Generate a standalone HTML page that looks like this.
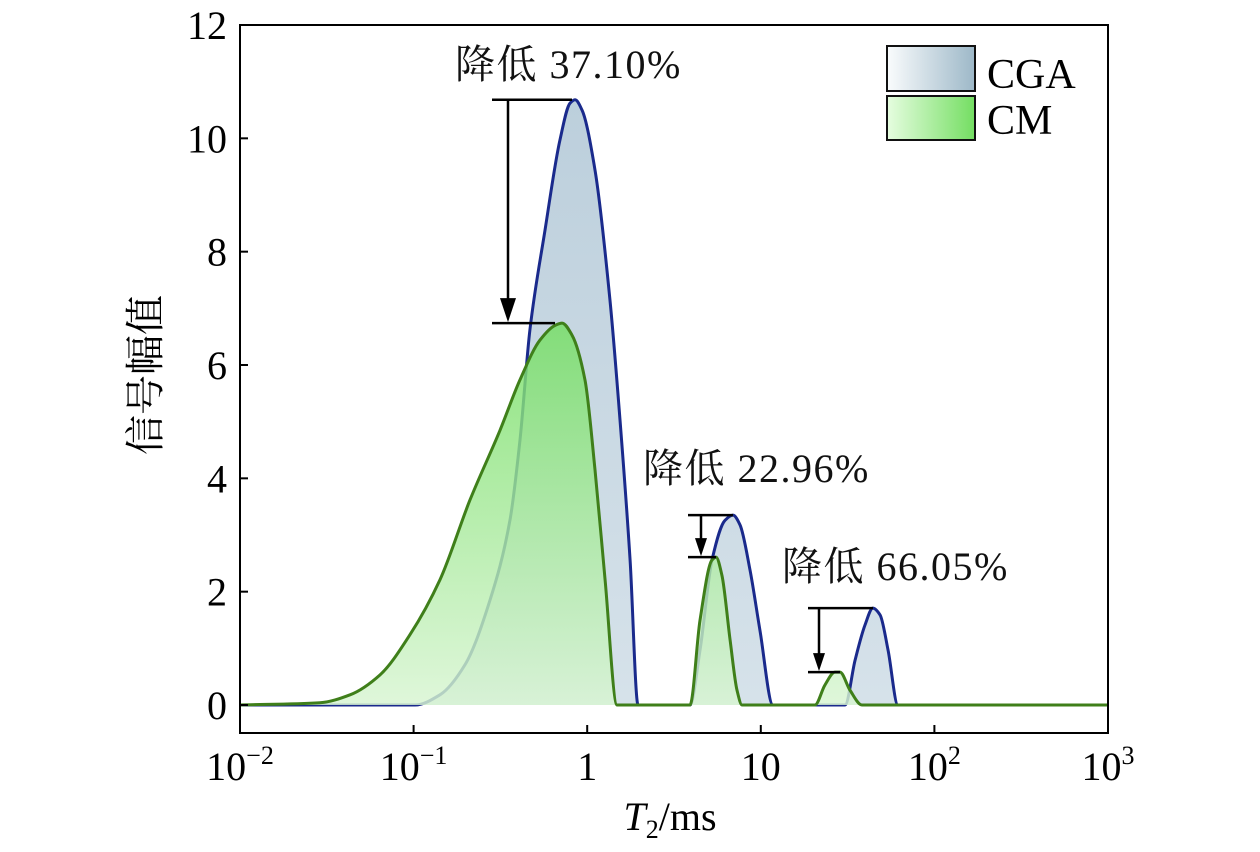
<!DOCTYPE html>
<html><head><meta charset="utf-8"><style>
html,body{margin:0;padding:0;background:#fff;}
svg{display:block;font-family:"Liberation Serif","Noto Serif CJK SC",serif;}
</style></head><body>
<svg id="chart" width="1260" height="852" viewBox="0 0 1260 852">
<defs>
<linearGradient id="gGreen" gradientUnits="userSpaceOnUse" x1="0" y1="323" x2="0" y2="705">
<stop offset="0" stop-color="#74de62"/><stop offset="1" stop-color="#d8f5d2"/></linearGradient>
<linearGradient id="gBlue" gradientUnits="userSpaceOnUse" x1="0" y1="100" x2="0" y2="705">
<stop offset="0" stop-color="#bccfdc"/><stop offset="1" stop-color="#d6e2ea"/></linearGradient>
<linearGradient id="lgBlue" x1="0" y1="0" x2="1" y2="0"><stop offset="0" stop-color="#fafcfd"/><stop offset="1" stop-color="#9db8c8"/></linearGradient>
<linearGradient id="lgGreen" x1="0" y1="0" x2="1" y2="0"><stop offset="0" stop-color="#e6fde0"/><stop offset="1" stop-color="#74de62"/></linearGradient>
</defs>
<g id="plot"></g>
</svg>
<script>
const cgaLogT2 = [-2,-0.992,-0.848,-0.704,-0.56,-0.445,-0.387,-0.33,-0.243,-0.157,-0.099,-0.07,-0.03,0.045,0.131,0.189,0.247,0.293,0.592,0.650,0.719,0.794,0.840,0.880,0.938,0.995,1.070,1.485,1.543,1.600,1.646,1.687,1.733,1.790,3];
const cgaAmp = [0,0,0.18,0.71,1.85,3.26,4.68,6.62,8.38,9.97,10.62,10.68,10.5,9.44,7.15,5.03,2.56,0,0,0.97,2.56,3.26,3.35,3.18,2.38,1.32,0,0,0.79,1.41,1.71,1.59,0.97,0,0];
const cmLogT2 = [-2,-1.539,-1.366,-1.194,-1.021,-0.848,-0.675,-0.502,-0.387,-0.272,-0.185,-0.145,-0.088,-0.013,0.045,0.103,0.172,0.592,0.650,0.719,0.742,0.776,0.823,0.863,0.892,1.312,1.369,1.427,1.456,1.514,1.583,3];
const cmAmp = [0,0.04,0.18,0.53,1.24,2.21,3.62,4.85,5.74,6.44,6.70,6.74,6.53,5.74,4.15,2.21,0,0,1.50,2.56,2.61,2.29,1.15,0.26,0,0,0.35,0.58,0.58,0.26,0,0];
const yTicks = [0,2,4,6,8,10,12];
const xTickExp = [-2,-1,0,1,2,3];
const xTickLabels = ["10<tspan dy='-16' font-size='26'>−2</tspan>","10<tspan dy='-16' font-size='26'>−1</tspan>","1","10","10<tspan dy='-16' font-size='26'>2</tspan>","10<tspan dy='-16' font-size='26'>3</tspan>"];
const drops = [{hi:10.68,lo:6.74,text:"降低 37.10%"},{hi:3.35,lo:2.61,text:"降低 22.96%"},{hi:1.71,lo:0.58,text:"降低 66.05%"}];

const L=240,R=1108,T=25,B=733;
const X=v=>L+(v+2)*(R-L)/5;
const Y=v=>705-v*(705-T)/12;
const g=document.getElementById('plot');
const NS='http://www.w3.org/2000/svg';
function el(t,a,p){const e=document.createElementNS(NS,t);for(const k in a)e.setAttribute(k,a[k]);(p||g).appendChild(e);return e;}
function path(xs,ys){
  const px=xs.map(X),py=ys.map(Y),n=px.length;
  const d=[],m=new Array(n);
  for(let i=0;i<n-1;i++)d.push((py[i+1]-py[i])/(px[i+1]-px[i]));
  m[0]=d[0];m[n-1]=d[n-2];
  for(let i=1;i<n-1;i++){
    if(d[i-1]*d[i]<=0)m[i]=0;
    else{const w1=2*(px[i+1]-px[i])+(px[i]-px[i-1]),w2=(px[i+1]-px[i])+2*(px[i]-px[i-1]);m[i]=(w1+w2)/(w1/d[i-1]+w2/d[i]);}
  }
  let s='M'+px[0]+','+py[0];
  for(let i=0;i<n-1;i++){
    const h=(px[i+1]-px[i])/3;
    s+=` C${px[i]+h},${py[i]+m[i]*h} ${px[i+1]-h},${py[i+1]-m[i+1]*h} ${px[i+1]},${py[i+1]}`;
  }
  return s;
}
const bd=path(cgaLogT2,cgaAmp);
const bf=el('path',{d:bd+` L${X(3)},${Y(0)} L${X(-2)},${Y(0)}Z`,fill:'url(#gBlue)'});

const bl=el('path',{d:bd,fill:'none',stroke:'#1a2a8c','stroke-width':3});

const gd=path(cmLogT2,cmAmp);
const gf=el('path',{d:gd+` L${X(3)},${Y(0)} L${X(-2)},${Y(0)}Z`,fill:'url(#gGreen)','fill-opacity':0.82});

const gl=el('path',{d:gd,fill:'none',stroke:'#3f7f1a','stroke-width':3});


const annX=[[492,572,508,455,78,555,16,24],[688,733,701,643,482,716,12,18],[808,873,819,782,580,840,12,18]];
drops.forEach((dp,i)=>{
  const a=annX[i];
  const h=el('line',{x1:a[0],x2:a[1],y1:Y(dp.hi),y2:Y(dp.hi),stroke:'#000','stroke-width':2.5});
  
  const lo=el('line',{x1:a[0],x2:a[5],y1:Y(dp.lo),y2:Y(dp.lo),stroke:'#000','stroke-width':2.5});
  
  const yl=Y(dp.lo)-1;
  const ar=el('line',{x1:a[2],x2:a[2],y1:Y(dp.hi),y2:yl-a[7]+2,stroke:'#000','stroke-width':2.5});
  
  const hd=el('path',{d:`M${a[2]-a[6]/2},${yl-a[7]} L${a[2]+a[6]/2},${yl-a[7]} L${a[2]},${yl}Z`,fill:'#000'});
  
  const t=el('text',{x:a[3],y:a[4],'font-size':40,'letter-spacing':1.5,fill:'#111'});t.textContent=dp.text;
  
});

const fr=el('rect',{x:L,y:T,width:R-L,height:B-T,fill:'none',stroke:'#000','stroke-width':2});

yTicks.forEach(v=>{
  const tk=el('line',{x1:L,x2:L+8,y1:Y(v),y2:Y(v),stroke:'#000','stroke-width':2});
  
  const t=el('text',{x:227,y:Y(v)+14,'font-size':40,'text-anchor':'end'});t.textContent=v;
  
});
xTickExp.forEach((v,i)=>{
  const tk=el('line',{x1:X(v),x2:X(v),y1:B,y2:B-8,stroke:'#000','stroke-width':2});
  
  const t=el('text',{x:X(v),y:780,'font-size':40,'text-anchor':'middle'});t.innerHTML=xTickLabels[i];
  
});
const xt=el('text',{x:670,y:830,'font-size':40,'text-anchor':'middle'});
xt.innerHTML="<tspan font-style='italic'>T</tspan><tspan font-size='26' dy='8'>2</tspan><tspan dy='-8'>/ms</tspan>";

const yt=el('text',{x:0,y:0,'font-size':40,'text-anchor':'middle',transform:'translate(159,375) rotate(-90)'});
yt.textContent='信号幅值';


const lg=el('g',{});

const r1=el('rect',{x:887,y:46,width:88,height:45,fill:'url(#lgBlue)',stroke:'#111','stroke-width':2},lg);

const r2=el('rect',{x:887,y:96,width:88,height:44,fill:'url(#lgGreen)',stroke:'#111','stroke-width':2},lg);

const t1=el('text',{x:987,y:88,'font-size':42},lg);t1.textContent='CGA';

const t2=el('text',{x:987,y:134,'font-size':42},lg);t2.textContent='CM';

</script>
</body></html>
